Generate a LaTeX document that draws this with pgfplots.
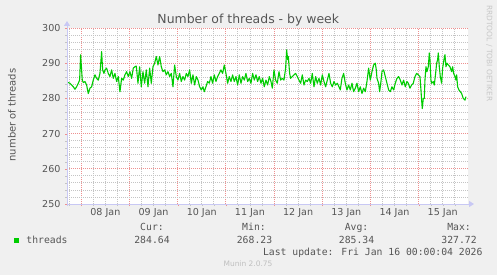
\documentclass[border=0pt]{standalone}
\usepackage{pgfplots}
\pgfplotsset{compat=1.18}
\usepackage{fontspec}
\setmainfont{DejaVu Sans}
\newfontfamily\mono{DejaVu Sans Mono}
\usetikzlibrary{arrows.meta}
\definecolor{bg}{HTML}{F0F0F0}
\definecolor{txt}{HTML}{555555}
\definecolor{minorg}{HTML}{C4C4C4}
\definecolor{majorr}{HTML}{EE9090}
\definecolor{axb}{HTML}{C8C8F4}
\definecolor{lg}{HTML}{00CC00}
\begin{document}
\begin{tikzpicture}[x=1bp,y=1bp]
\fill[bg] (0,0) rectangle (497,275);
\begin{axis}[
  name=ax,
  at={(67bp,71bp)}, anchor=south west,
  scale only axis, width=401bp, height=176bp,
  xmin=-7.1, xmax=192.6, ymin=250, ymax=300,
  axis line style={draw=none},
  axis background/.style={fill=white},
  /pgf/number format/assume math mode=true,
  tick pos=left, tick align=outside,
  major tick length=2bp, minor tick length=2bp,
  major tick style={majorr}, minor tick style={minorg},
  xtick={0,24,...,168}, xticklabels={},
  extra x ticks={12,36,...,180},
  extra x tick labels={08 Jan,09 Jan,10 Jan,11 Jan,12 Jan,13 Jan,14 Jan,15 Jan},
  extra x tick style={grid=none, major tick length=0pt},
  minor xtick={-6,6,12,18,30,36,42,54,60,66,78,84,90,102,108,114,126,132,138,150,156,162,174,180,186},
  ytick={250,260,...,300},
  minor ytick={252,254,256,258,262,264,266,268,272,274,276,278,282,284,286,288,292,294,296,298},
  xmajorgrids, ymajorgrids, xminorgrids, yminorgrids,
  major grid style={majorr, line width=0.8bp, dash pattern=on 1bp off 1bp},
  minor grid style={minorg, line width=0.8bp, dash pattern=on 1bp off 1bp},
  ticklabel style={font=\fontsize{9.6}{10}\selectfont, text=txt},
  xticklabel style={yshift=-1bp},
  yticklabel style={xshift=-1bp},
]
\addplot[lg, line width=1.1bp, line join=round, no markers] table {
-7.10 284.5
-6.46 284.5
-5.63 284.3
-4.80 283.8
-3.97 283.3
-3.14 282.6
-2.31 283.3
-1.48 284.3
-0.81 285.2
-0.32 292.4
0.18 288.1
0.51 285.2
1.01 284.5
1.84 284.8
2.67 283.8
3.50 281.4
4.33 282.9
5.16 283.3
5.99 285.2
6.82 286.7
7.65 285.7
8.48 285.2
9.31 287.1
10.14 293.3
10.64 288.1
11.30 287.1
11.80 288.1
12.63 288.6
13.46 287.1
14.29 286.2
15.12 288.1
15.95 285.7
16.78 287.1
17.61 284.8
18.44 286.2
19.27 281.9
20.10 285.7
20.93 285.2
21.76 286.7
22.59 287.6
23.42 286.2
24.25 287.6
25.08 285.7
25.91 288.6
26.74 289.0
27.41 289.2
28.24 284.3
29.07 289.0
29.90 283.3
30.73 287.6
31.56 284.3
32.39 288.1
33.22 283.3
34.05 288.6
34.88 284.3
35.71 289.0
36.54 290.0
37.37 291.9
38.20 289.5
39.03 291.9
39.86 289.0
40.69 287.6
41.52 288.1
42.35 286.7
43.18 287.6
44.01 286.2
44.84 287.1
45.67 283.3
46.50 289.5
47.33 286.2
48.16 285.2
48.99 287.1
49.82 284.8
50.65 286.2
51.48 285.2
52.31 287.1
53.14 286.2
53.97 288.1
54.80 284.3
55.63 286.7
56.46 283.8
57.29 286.2
58.12 285.2
58.95 283.3
59.78 282.4
60.61 283.3
61.27 281.9
62.10 283.3
62.93 284.8
63.76 284.3
64.59 286.2
65.42 284.3
66.25 286.7
67.08 284.8
67.91 286.2
68.74 287.1
69.57 288.1
70.40 287.1
71.23 289.5
72.06 287.1
72.89 284.3
73.72 286.2
74.55 284.8
75.38 286.7
76.21 284.8
77.04 286.2
77.87 283.8
78.70 286.7
79.53 284.3
80.36 286.2
81.19 285.2
82.02 287.1
82.85 284.8
83.68 285.7
84.51 284.3
85.34 287.1
86.17 285.2
87.00 286.7
87.83 284.8
88.66 286.2
89.49 284.3
90.32 285.7
91.15 283.3
91.98 285.2
92.81 283.8
93.64 286.2
94.47 284.8
95.14 282.9
95.97 288.1
96.80 285.2
97.63 284.3
98.46 287.6
99.29 285.2
100.12 285.7
100.95 285.2
101.78 288.6
102.28 293.8
102.78 291.0
103.11 291.9
103.77 287.1
104.27 285.7
105.10 286.2
105.93 286.7
106.76 287.1
107.59 286.2
108.42 285.2
109.25 284.3
110.08 286.7
110.91 283.8
111.74 285.2
112.57 284.8
113.40 285.7
114.23 284.3
115.06 287.1
115.89 283.3
116.72 286.2
117.55 284.3
118.38 285.7
119.21 283.8
120.04 286.7
120.87 284.8
121.70 283.3
122.53 285.2
123.36 287.1
124.19 284.3
125.02 283.3
125.85 284.8
126.68 283.8
127.51 284.3
128.34 283.3
129.00 282.4
129.83 285.7
130.66 287.1
131.49 284.3
132.32 282.4
133.15 283.8
133.98 282.4
134.81 284.3
135.64 281.9
136.47 282.9
137.30 284.3
138.13 281.9
138.96 283.3
139.79 281.4
140.62 282.9
141.45 281.9
142.28 284.8
143.11 288.6
143.94 285.2
144.77 287.6
145.60 289.5
146.43 290.0
146.93 288.1
147.26 285.7
148.09 284.3
148.59 281.9
149.25 284.8
149.75 287.6
150.58 288.1
151.41 286.2
152.24 284.3
153.07 282.4
153.90 281.9
154.73 283.3
155.56 282.4
156.39 284.3
157.22 285.7
158.05 286.2
158.88 285.2
159.71 283.8
160.54 285.2
161.37 283.3
162.20 284.8
162.86 284.3
163.69 282.9
164.52 283.8
165.35 284.3
166.18 286.2
167.01 287.1
167.84 286.7
168.67 286.2
169.17 282.4
169.50 279.5
169.83 277.1
170.33 280.0
170.83 280.0
171.16 285.2
171.66 289.0
172.16 287.6
172.82 289.0
173.32 292.9
173.65 291.0
174.15 285.2
174.48 284.3
175.31 284.8
175.81 283.8
176.47 287.1
176.97 290.0
177.47 291.0
177.80 292.9
178.30 289.0
178.80 286.2
179.46 284.3
179.96 288.6
180.62 291.0
181.12 292.4
181.62 289.0
182.12 290.0
182.78 289.5
183.61 289.0
184.44 287.6
184.94 289.0
185.44 287.1
186.10 286.2
186.60 285.2
186.93 286.7
187.43 283.3
188.09 282.4
188.76 281.9
189.42 281.4
190.25 280.0
191.08 279.5
191.58 280.5
};
\end{axis}
\draw[axb, line width=1bp, -{Triangle[length=5bp,width=6bp]}] ([yshift=0bp]ax.south west) -- ([xshift=6bp]ax.south east);
\draw[axb, line width=1bp, -{Triangle[length=5bp,width=6bp]}] ([yshift=-2bp]ax.south west) -- ([yshift=7bp]ax.north west);
% title and labels
\node[text=txt, font=\fontsize{12.5}{13}\selectfont, anchor=base] at (248.3,251.5) {Number of threads - by week};
\node[text=txt, font=\fontsize{10}{11}\selectfont, rotate=90, anchor=base] at (15.5,160) {number of threads};
\node[text=black!22, font=\fontsize{7.5}{8}\selectfont, rotate=-90, anchor=base west, inner sep=0pt] at (486.8,270) {RRDTOOL / TOBI OETIKER};
% legend
\begin{scope}[every node/.style={font=\mono\fontsize{9.8}{10}\selectfont, text=txt, anchor=base, inner sep=0pt}]
\node at (152,44.3) {Cur:};
\node at (254,44.3) {Min:};
\node at (356.5,44.3) {Avg:};
\node at (459,44.3) {Max:};
\node[anchor=base west] at (26.2,31.7) {threads};
\node at (152,31.7) {284.64};
\node at (254.5,31.7) {268.23};
\node at (356.5,31.7) {285.34};
\node at (459,31.7) {327.72};
\node[anchor=base east] at (482.7,20) {Last update: Fri Jan 16 00:00:04 2026};
\end{scope}
\fill[lg] (14,32.3) rectangle (19.3,37.5);
\node[text=black!25, font=\fontsize{7.5}{8}\selectfont, anchor=base, inner sep=0pt] at (248,8.3) {Munin 2.0.75};
\end{tikzpicture}
\end{document}
